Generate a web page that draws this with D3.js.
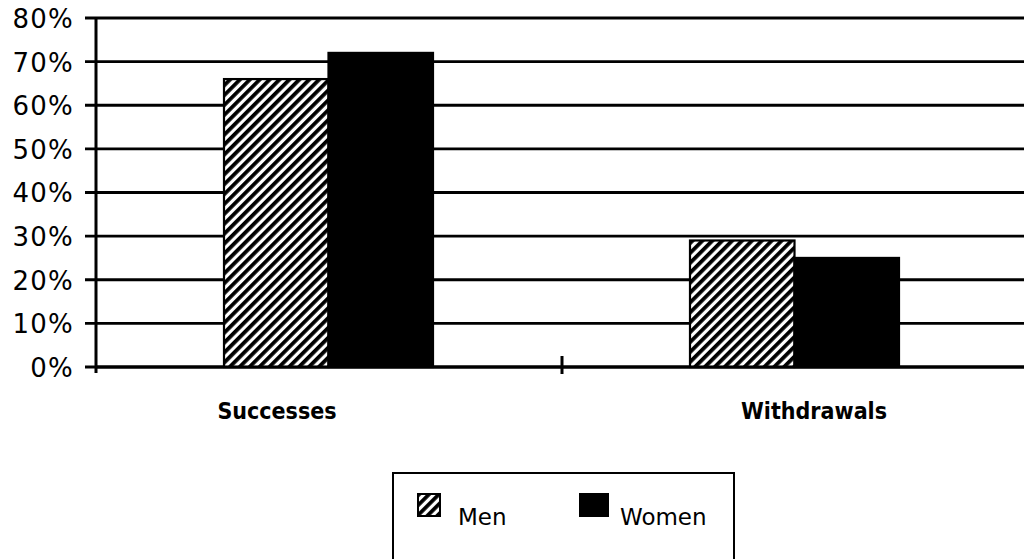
<!DOCTYPE html>
<html>
<head>
<meta charset="utf-8">
<script src="https://cdn.jsdelivr.net/npm/d3@7"></script>
<style>
  html, body { margin: 0; padding: 0; background: #fff; }
  svg { display: block; }
</style>
</head>
<body>
<svg id="chart" width="1024" height="559"></svg>
<script>
const categories = ["Successes", "Withdrawals"];
const seriesNames = ["Men", "Women"];
const menValues = [0.66, 0.29];
const womenValues = [0.72, 0.25];
const yTicks = [0, 0.1, 0.2, 0.3, 0.4, 0.5, 0.6, 0.7, 0.8];

(function () {
const svg = d3.select("#chart");
const W = 1024;
const mLeft = 96, mTop = 18, mBottom = 367, mRight = 1028;

const defs = svg.append("defs");
const pat = defs.append("pattern")
  .attr("id", "hatch")
  .attr("patternUnits", "userSpaceOnUse")
  .attr("width", 7).attr("height", 7)
  .attr("patternTransform", "rotate(45)");
pat.append("rect").attr("width", 7).attr("height", 7).attr("fill", "#fff");
pat.append("rect").attr("x", 0).attr("y", 0).attr("width", 3.8).attr("height", 7).attr("fill", "#000");

const y = d3.scaleLinear().domain([0, 0.8]).range([mBottom, mTop]);
const x = d3.scaleBand().domain(categories).range([mLeft, mRight]).padding(0);
const x1 = d3.scaleBand().domain(seriesNames).range([x.bandwidth()/2 - 105, x.bandwidth()/2 + 104]).padding(0);

// gridlines
svg.append("g").selectAll("line").data(yTicks).join("line")
  .attr("x1", mLeft - 11).attr("x2", W)
  .attr("y1", d => y(d)).attr("y2", d => y(d))
  .attr("stroke", "#000").attr("stroke-width", 2.8);

// y axis labels
const yAxis = d3.axisLeft(y).tickValues(yTicks).tickFormat(d3.format(".0%")).tickSize(0).tickPadding(22);
const ga = svg.append("g").attr("transform", `translate(${mLeft},0)`).call(yAxis);
ga.select(".domain").remove();
ga.selectAll("text")
  .attr("font-family", "DejaVu Sans, sans-serif")
  .attr("font-size", 26)
  .attr("letter-spacing", 1.2)
  .attr("fill", "#000")
  .attr("dy", "0.36em");

// bars
const data = [];
categories.forEach((c, i) => {
  data.push({cat: c, s: "Men", v: menValues[i]});
  data.push({cat: c, s: "Women", v: womenValues[i]});
});
svg.append("g").selectAll("rect").data(data).join("rect")
  .attr("x", d => x(d.cat) + x1(d.s))
  .attr("width", x1.bandwidth())
  .attr("y", d => y(d.v))
  .attr("height", d => y(0) - y(d.v))
  .attr("fill", d => d.s === "Men" ? "url(#hatch)" : "#000")
  .attr("stroke", "#000").attr("stroke-width", 2.2);

// y axis line
svg.append("line").attr("x1", mLeft).attr("x2", mLeft).attr("y1", mTop - 1).attr("y2", mBottom + 6)
  .attr("stroke", "#000").attr("stroke-width", 3);
// baseline
svg.append("line").attr("x1", mLeft).attr("x2", W).attr("y1", y(0)).attr("y2", y(0))
  .attr("stroke", "#000").attr("stroke-width", 3);
// category separator tick
svg.append("g").selectAll("line").data(categories.slice(1)).join("line")
  .attr("x1", d => x(d)).attr("x2", d => x(d))
  .attr("y1", mBottom - 11).attr("y2", mBottom + 7)
  .attr("stroke", "#000").attr("stroke-width", 3);

// category labels
const labelDx = [-52, 19];
svg.append("g").selectAll("text").data(categories).join("text")
  .attr("x", (d, i) => x(d) + x.bandwidth()/2 + labelDx[i])
  .attr("y", 419)
  .attr("text-anchor", "middle")
  .attr("font-family", "DejaVu Sans Condensed, DejaVu Sans, sans-serif")
  .attr("font-stretch", "condensed")
  .attr("font-weight", "bold")
  .attr("font-size", 23)
  .attr("fill", "#000")
  .text(d => d);

// legend
const lg = svg.append("g");
lg.append("rect").attr("x", 393).attr("y", 473).attr("width", 341).attr("height", 100)
  .attr("fill", "#fff").attr("stroke", "#000").attr("stroke-width", 2);
const legendItems = [
  {name: seriesNames[0], fill: "url(#hatch)", sx: 418, tx: 458, w: 22},
  {name: seriesNames[1], fill: "#000", sx: 580, tx: 620, w: 28}
];
legendItems.forEach(it => {
  lg.append("rect").attr("x", it.sx).attr("y", 494).attr("width", it.w).attr("height", 22)
    .attr("fill", it.fill).attr("stroke", "#000").attr("stroke-width", 2);
  lg.append("text").attr("x", it.tx).attr("y", 525)
    .attr("font-family", "DejaVu Sans, sans-serif")
    .attr("font-size", 23).attr("fill", "#000")
    .text(it.name);
});
})();
</script>
</body>
</html>
